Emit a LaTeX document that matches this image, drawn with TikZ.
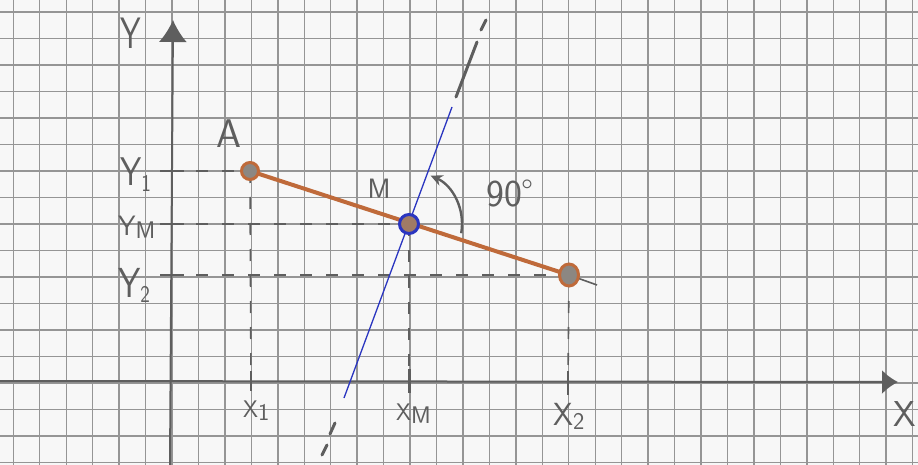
\documentclass[tikz,border=0pt]{standalone}
\usetikzlibrary{arrows.meta,calc,shapes.geometric}
\definecolor{paper}{HTML}{F7F7F7}
\definecolor{gridgray}{HTML}{959595}
\definecolor{pencilgray}{HTML}{5E5E5E}
\definecolor{segbrown}{HTML}{BF6A3A}
\definecolor{ptfill}{HTML}{8C8782}
\definecolor{perpblue}{HTML}{2A35C0}
\newcommand\hsub[1]{\raisebox{-0.3ex}{\fontsize{24}{24}\selectfont #1}}
\begin{document}
\begin{tikzpicture}[x=1pt,y=-1pt,
  gridline/.style={draw=gridgray,line width=1.4pt},
  pencil/.style={draw=pencilgray,line width=1.6pt},
  guide/.style={pencil,dash pattern=on 12pt off 14pt},
  lbl/.style={text=pencilgray,font=\sffamily\fontsize{32}{32}\selectfont,inner sep=0pt},
  lblsmall/.style={text=pencilgray,font=\sffamily\fontsize{24}{24}\selectfont,inner sep=0pt},
  endpt/.style={circle,draw=segbrown,line width=3pt,fill=ptfill,minimum size=17pt,inner sep=0pt},
  midpt/.style={circle,draw=perpblue,line width=3pt,fill=ptfill!60!segbrown,minimum size=19pt,inner sep=0pt}]
\useasboundingbox (0,0) rectangle (918,465);
\fill[paper] (0,0) rectangle (918,465);
% grid
\foreach \i in {-6,...,28} \draw[gridline] ({172+26.45*\i},0) -- ({172+26.45*\i},465);
\foreach \j in {-3,...,14} \draw[gridline] (0,{383-26.5*\j}) -- (918,{383-26.5*\j});
% coordinates
\coordinate (A) at (250,171);
\coordinate (M) at (409,224);
\coordinate (B) at (569,275);
\coordinate (Bext) at (597,285);
\coordinate (ya) at (170,171);
\coordinate (ym) at (170,224);
\coordinate (yb) at (170,275);
\coordinate (xa) at (251,381);
\coordinate (xm) at (409,381);
\coordinate (xb) at (568,381);
\coordinate (yaxb) at (170,465);
\coordinate (yaxt) at (173,20);
\coordinate (xaxl) at (0,381);
\coordinate (xaxr) at (898,382);
\coordinate (bltop) at (452,107);
\coordinate (blbot) at (344,398);
\coordinate (gt1) at (456,97);
\coordinate (gt2) at (477,42);
\coordinate (gt3) at (481,30);
\coordinate (gt4) at (486,20);
\coordinate (gb1) at (335,423);
\coordinate (gb2) at (330,434);
\coordinate (gb3) at (327,445);
\coordinate (gb4) at (322,455);
% axes
\draw[pencil,line width=2pt,-{Latex[length=22pt,width=28pt]}] (yaxb) -- (yaxt);
\draw[pencil,line width=2pt,-{Latex[length=16pt,width=24pt]}] (xaxl) -- (xaxr);
% ticks
\foreach \c in {ya,ym,yb} \draw[pencil,line width=1.8pt] ($(\c)+(-10,0)$) -- ($(\c)+(14,0)$);
\draw[pencil,line width=2pt] ($(xa)+(0,-10)$) -- ($(xa)+(0,10)$);
\draw[pencil,line width=3pt] ($(xm)+(0,-12)$) -- ($(xm)+(0,12)$);
\draw[pencil,line width=2.2pt] ($(xb)+(0,-10)$) -- ($(xb)+(0,14)$);
% guide lines
\draw[guide] (ya) -- (A);
\draw[guide] (ym) -- (M);
\draw[guide] (yb) -- (B);
\draw[guide] (A) -- (xa);
\draw[guide] (M) -- (xm);
\draw[guide] (B) -- (xb);
% perpendicular bisector
\draw[perpblue,line width=1.3pt] (blbot) -- (bltop);
\draw[pencil,line width=3pt,line cap=round] (gt1) -- (gt2);
\draw[pencil,line width=3pt,line cap=round] (gt3) -- (gt4);
\draw[pencil,line width=3pt,line cap=round] (gb1) -- (gb2);
\draw[pencil,line width=3pt,line cap=round] (gb3) -- (gb4);
% segment
\draw[pencil,line width=1.6pt] (B) -- (Bext);
\draw[segbrown,line width=4pt] (A) -- (B);
\node[endpt] (Apt) at (A) {};
\node[endpt,ellipse,minimum width=19pt,minimum height=22pt] (Bpt) at (B) {};
\node[midpt] (Mpt) at (M) {};
% angle arrow
\draw[pencil,line width=2.4pt,-{Stealth[length=12pt,width=11pt]}] ($(M)+(10:53)$) arc[start angle=10,end angle=-66,radius=53];
% labels
\node[lbl,font=\sffamily\fontsize{44}{44}\selectfont,xscale=0.75] (Ylab) at (131,33) {Y};
\node[lbl,anchor=base east,font=\sffamily\fontsize{36}{36}\selectfont] (Xlab) at (916,426) {X};
\node[lbl,font=\sffamily\fontsize{40}{40}\selectfont] (Alab) at (229,134) {A};
\node[lblsmall,font=\sffamily\fontsize{28}{28}\selectfont] (Mlab) at (379,189) {M};
\node[lbl,anchor=base west,font=\sffamily\fontsize{38}{38}\selectfont] (deg) at (486,207) {90\raisebox{0.1em}{\fontsize{34}{34}\selectfont\textdegree}};
\node[lbl,anchor=base west,font=\sffamily\fontsize{40}{40}\selectfont,xscale=0.85] (Y1lab) at (120,186) {Y\hsub{1}};
\node[lbl,anchor=base west,font=\sffamily\fontsize{28}{28}\selectfont] (YMlab) at (118,235) {Y\hsub{M}};
\node[lbl,anchor=base west,font=\sffamily\fontsize{42}{42}\selectfont,xscale=0.85] (Y2lab) at (118,297) {Y\hsub{2}};
\node[lblsmall,anchor=base west] (X1lab) at (243,417) {X\hsub{1}};
\node[lblsmall,anchor=base west] (XMlab) at (396,420) {X\hsub{M}};
\node[lbl,anchor=base west] (X2lab) at (553,425) {X\hsub{2}};
\end{tikzpicture}
\end{document}
